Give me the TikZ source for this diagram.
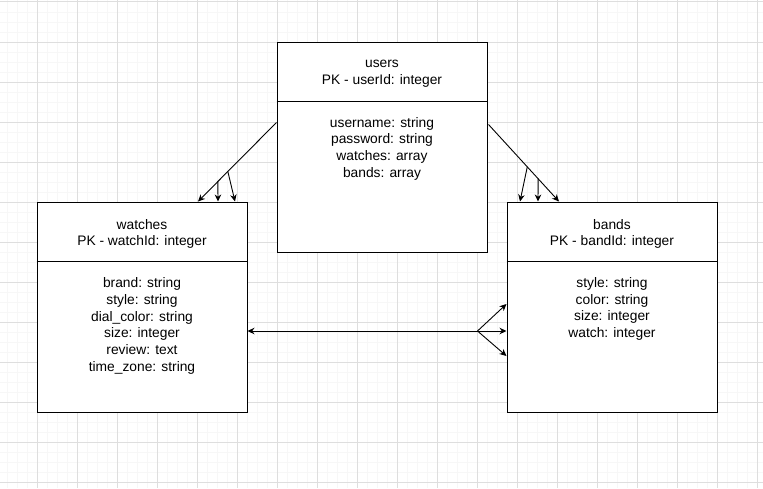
\documentclass[tikz,border=0pt]{standalone}
\usepackage{fontspec}
\setmainfont{Liberation Sans}
\usetikzlibrary{arrows.meta,calc}
\definecolor{gridminor}{RGB}{247,247,247}
\definecolor{gridmajor}{RGB}{222,222,222}
\begin{document}
\begin{tikzpicture}[x=1pt,y=-1pt,
  minorline/.style={draw=gridminor,line width=0.8pt},
  majorline/.style={draw=gridmajor,line width=0.8pt},
  entity/.style={draw=black,line width=1pt,minimum width=210pt,minimum height=210pt,inner sep=0pt,fill=white},
  etext/.style={align=center,font=\fontsize{13.8}{16.7}\selectfont,inner sep=0pt},
  conn/.style={draw=black,line width=0.9pt},
  tip/.style={-{Stealth[length=7pt,width=6.5pt]}}
]
\useasboundingbox (0,0) rectangle (763,488);
\fill[white] (0,0) rectangle (763,488);
% grid
\foreach \x in {7,17,...,757} \draw[minorline] (\x,0) -- (\x,488);
\foreach \y in {12,22,...,482} \draw[minorline] (0,\y) -- (763,\y);
\foreach \x in {37,77,...,757} \draw[majorline] (\x,0) -- (\x,488);
\foreach \y in {42,82,...,482} \draw[majorline] (0,\y) -- (763,\y);
\draw[draw=gridmajor,line width=1.6pt] (0,1.5) -- (763,1.5);

% entities
\node[entity] (users) at (382,147) {};
\node[entity] (watches) at (142,307) {};
\node[entity] (bands) at (612,307) {};
\draw[line width=1pt] ($(users.north west)+(0,60)$) -- ($(users.north east)+(0,60)$);
\draw[line width=1pt] ($(watches.north west)+(0,60)$) -- ($(watches.north east)+(0,60)$);
\draw[line width=1pt] ($(bands.north west)+(0,60)$) -- ($(bands.north east)+(0,60)$);

\node[etext] (usersT) at (382,74) {users\\PK - userId: integer};
\node[etext] (usersA) at (382,148.5) {username: string\\password: string\\watches: array\\bands: array};
\node[etext] (watchesT) at (142,234) {watches\\PK - watchId: integer};
\node[etext] (watchesA) at (142,326) {brand: string\\style: string\\dial\_color: string\\size: integer\\review: text\\time\_zone: string};
\node[etext] (bandsT) at (612,234) {bands\\PK - bandId: integer};
\node[etext] (bandsA) at (612,309) {style: string\\color: string\\size: integer\\watch: integer};

% connector points
\coordinate (uL) at ($(users.north west)+(0,81)$);
\coordinate (wA) at ($(watches.north)+(56,0)$);
\coordinate (wB) at ($(watches.north)+(76,0)$);
\coordinate (wC) at ($(watches.north)+(93,0)$);
\coordinate (uR) at ($(users.north east)+(1,83)$);
\coordinate (bA) at ($(bands.north)+(-53,0)$);
\coordinate (bB) at ($(bands.north)+(-74,0)$);
\coordinate (bC) at ($(bands.north)+(-92,0)$);

\draw[conn,tip] (uL) -- (wA);
\draw[conn,tip] ($(uL)!0.747!(wA)$) -- (wB);
\draw[conn,tip] ($(uL)!0.62!(wA)$) -- (wC);
\draw[conn,tip] (uR) -- (bA);
\draw[conn,tip] ($(uR)!0.704!(bA)$) -- (bB);
\draw[conn,tip] ($(uR)!0.55!(bA)$) -- (bC);

\coordinate (wE) at ($(watches.east)+(0,24)$);
\coordinate (bW) at ($(bands.west)+(0,24)$);
\coordinate (bWu) at ($(bands.west)+(0,-3)$);
\coordinate (bWd) at ($(bands.west)+(0,49)$);
\coordinate (br) at ($(bW)+(-29,0)$);
\draw[conn,{Stealth[length=7pt,width=6.5pt]}-{Stealth[length=7pt,width=6.5pt]}] (wE) -- (bW);
\draw[conn,tip] (br) -- (bWu);
\draw[conn,tip] (br) -- (bWd);
\end{tikzpicture}
\end{document}
